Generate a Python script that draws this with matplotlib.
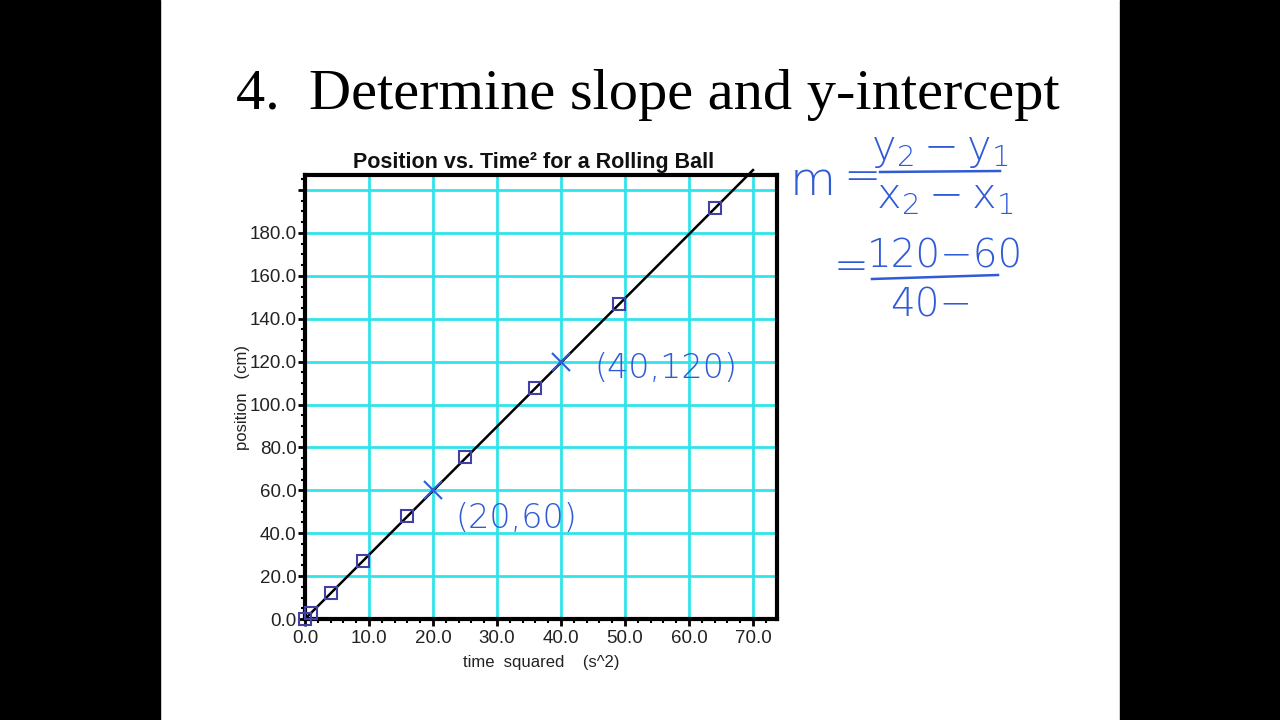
import matplotlib
matplotlib.use("Agg")
import matplotlib.pyplot as plt
from matplotlib.patches import Rectangle
from matplotlib.ticker import MultipleLocator, FixedLocator
from matplotlib.lines import Line2D

# ---- data ----
time_squared = [0, 1, 4, 9, 16, 25, 36, 49, 64]
position = [0, 3, 12, 27, 48, 75.5, 107.5, 147, 191.5]
fit_x = [0, 70]
fit_slope = 2.99
marked_x = [20, 40]
marked_y = [60, 120]
x_ticks = [0, 10, 20, 30, 40, 50, 60, 70]
y_ticks = [0, 20, 40, 60, 80, 100, 120, 140, 160, 180, 200]
y_labels = ["0.0", "20.0", "40.0", "60.0", "80.0", "100.0", "120.0", "140.0", "160.0", "180.0", ""]
x_labels = ["0.0", "10.0", "20.0", "30.0", "40.0", "50.0", "60.0", "70.0"]

plt.rcParams["mathtext.fontset"] = "dejavusans"

W, H = 1280, 720
fig = plt.figure(figsize=(12.8, 7.2), dpi=100)
fig.patch.set_facecolor("white")

# black side bars
fig.add_artist(Rectangle((0, 0), 160 / W, 1, transform=fig.transFigure, color="black", zorder=0))
fig.add_artist(Rectangle((1120 / W, 0), 160 / W, 1, transform=fig.transFigure, color="black", zorder=0))

def fx(px):
    return px / W

def fy(py):
    return 1 - py / H

# slide title
fig.text(fx(236), fy(95), "4.  Determine slope and y-intercept", family="Liberation Serif",
         fontsize=42, ha="left", va="center", color="black")

ax = fig.add_axes([fx(305), fy(619), (777 - 305) / W, (619 - 175) / H])
ax.set_xlim(0, 73.75)
ax.set_ylim(0, 207)

cyan = "#30E4EA"
for xv in x_ticks[1:]:
    ax.axvline(xv, color=cyan, lw=2.0, zorder=1)
for yv in y_ticks[1:]:
    ax.axhline(yv, color=cyan, lw=2.0, zorder=1)

ax.plot(fit_x, [fit_slope * v for v in fit_x], color="black", lw=1.8, zorder=3, clip_on=False)
ax.plot(time_squared, position, linestyle="none", marker="s", markersize=8.5,
        markerfacecolor="none", markeredgecolor="#4040A8", markeredgewidth=1.5, zorder=4, clip_on=False)

ax.xaxis.set_major_locator(FixedLocator(x_ticks))
ax.set_xticklabels(x_labels)
ax.yaxis.set_major_locator(FixedLocator(y_ticks))
ax.set_yticklabels(y_labels)
ax.xaxis.set_minor_locator(MultipleLocator(2))
ax.yaxis.set_minor_locator(MultipleLocator(5))
ax.tick_params(axis="both", which="major", length=5, width=2, color="black",
               labelsize=13.5, labelcolor="#222222", direction="out")
ax.tick_params(axis="x", which="major", pad=3)
ax.tick_params(axis="y", which="major", pad=1)
ax.tick_params(axis="both", which="minor", length=3, width=1.5, color="black", direction="out")
for lab in ax.get_xticklabels() + ax.get_yticklabels():
    lab.set_family("Liberation Sans")
for s in ax.spines.values():
    s.set_linewidth(3)
    s.set_color("black")

ax.set_title("Position vs. Time\u00b2 for a Rolling Ball", family="Liberation Sans",
             fontweight="bold", fontsize=15.5, pad=5, color="#111111", x=0.485)
ax.set_xlabel("time  squared    (s^2)", family="Liberation Sans", fontsize=12, labelpad=6, color="#222222")
ax.set_ylabel("position   (cm)", family="Liberation Sans", fontsize=12, labelpad=0, color="#222222")

# handwritten annotations
blue = "#2F5BD6"
ax.plot(marked_x, marked_y, linestyle="none", marker="x", markersize=13,
        markeredgewidth=1.5, color=blue, zorder=5)
ax.annotate("(20,60)", (20, 60), xytext=(16, -20), textcoords="offset points",
            color=blue, fontsize=24, family="DejaVu Sans", fontweight="light", ha="left", va="center")
ax.annotate("(40,120)", (40, 120), xytext=(24, -5), textcoords="offset points",
            color=blue, fontsize=24, family="DejaVu Sans", fontweight="light", ha="left", va="center")

hw = dict(color=blue, family="DejaVu Sans", fontweight="light")
fig.text(fx(790), fy(182), "m", fontsize=34, ha="left", va="center", **hw)
fig.text(fx(843), fy(178), "=", fontsize=32, ha="left", va="center", **hw)
fig.text(fx(940), fy(150), r"$\mathregular{y_2 - y_1}$", fontsize=30, ha="center", va="center", **hw)
fig.add_artist(Line2D([fx(880), fx(1000)], [fy(172), fy(171)], transform=fig.transFigure, color=blue, lw=1.8))
fig.text(fx(945), fy(196), r"$\mathregular{x_2 - x_1}$", fontsize=30, ha="center", va="center", **hw)
fig.text(fx(834), fy(266), "=", fontsize=30, ha="left", va="center", **hw)
fig.text(fx(945), fy(256), "120\u221260", fontsize=28, ha="center", va="center", **hw)
fig.add_artist(Line2D([fx(872), fx(998)], [fy(279), fy(275)], transform=fig.transFigure, color=blue, lw=1.8))
fig.text(fx(890), fy(305), "40\u2212", fontsize=28, ha="left", va="center", **hw)

fig.savefig("out.png", dpi=100, facecolor=fig.get_facecolor())
